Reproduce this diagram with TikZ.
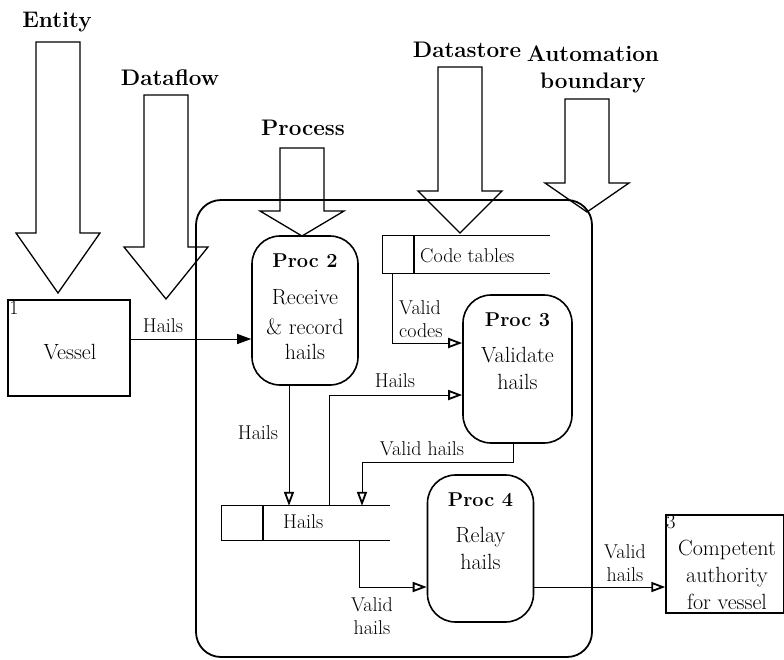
\documentclass[tikz,border=0pt]{standalone}
\usepackage{fontspec}
\usepackage{tikz}
\usetikzlibrary{arrows.meta}
\newcommand{\headfont}{\fontsize{22.5}{28}\selectfont\bfseries}
\newcommand{\bodyfont}{\fontsize{22}{27}\selectfont}
\newcommand{\procfont}{\fontsize{20}{24}\selectfont\bfseries}
\newcommand{\flowfont}{\fontsize{20}{23}\selectfont}
\newcommand{\bigarrow}[4]{%
	\draw[line width=1.3pt]
			(#1-22,#2) -- (#1+22,#2) -- (#1+22,#3) -- (#1+42,#3)
		--	(#1,#4) -- (#1-42,#3) -- (#1-22,#3) -- cycle;}
\tikzset{
	entitybox/.style = {draw, line width=1.5pt, inner sep=0pt},
	procbox/.style = {draw, line width=1.6pt, rounded corners=28pt, inner sep=0pt},
	storebox/.style = {inner sep=0pt},
	flow/.style = {line width=1pt, -{Triangle[open, length=14pt, width=10pt, line width=1.8pt]}},
	flowlabel/.style = {font=\flowfont, align=center, inner sep=1pt},
	bodytext/.style = {font=\bodyfont, align=center, inner sep=2pt},
	headlabel/.style = {font=\headfont, align=center, inner sep=0pt}
}

\begin{document}
\begin{tikzpicture}[x=1pt, y=-1pt]
	\useasboundingbox (0,0) rectangle (784,659);

	\draw[line width=1.8pt, rounded corners=25pt] (196,200) rectangle (592,657);

	\node[headlabel] (lentity) at (57,22) {Entity};
	\node[headlabel] (ldataflow) at (170,78) {Dataflow};
	\node[headlabel] (lprocess) at (303,128) {Process};
	\node[headlabel] (ldatastore) at (467,50) {Datastore};
	\node[headlabel, font=\fontsize{22.5}{27}\selectfont\bfseries] (lboundary) at (593,69) {Automation\\boundary};

	\bigarrow{58}{42}{233}{293}
	\bigarrow{166}{95}{247}{299}
	\bigarrow{302}{148}{211}{236}
	\bigarrow{460}{67}{191}{233}
	\bigarrow{587}{99}{183}{212}

	\node[entitybox, minimum width=122pt, minimum height=96pt] (vessel) at (69,348) {};
	\node[flowlabel, anchor=north west, inner sep=2pt] at (vessel.north west) {1};
	\node[bodytext] (vesseltext) at (70,352) {Vessel};

	\node[entitybox, minimum width=118pt, minimum height=98pt] (authority) at (725,564) {};
	\node[flowlabel, anchor=north west, inner sep=1pt] at (authority.north west) {3};
	\node[bodytext] (authtext) at (727,575) {Competent\\authority\\for vessel};

	\node[procbox, minimum width=106pt, minimum height=149pt] (proc2) at (305,310.5) {};
	\node[bodytext, anchor=north] at ([yshift=-16pt]proc2.north) {{\procfont Proc 2}\\[10pt]Receive\\[3pt]\& record\\[-2pt]hails};

	\node[procbox, minimum width=109pt, minimum height=148pt] (proc3) at (517.5,369) {};
	\node[bodytext, anchor=north] at ([yshift=-16pt]proc3.north) {{\procfont Proc 3}\\[9pt]Validate\\hails};

	\node[procbox, minimum width=106pt, minimum height=147pt] (proc4) at (480.5,548.5) {};
	\node[bodytext, anchor=north] at ([yshift=-16pt]proc4.north) {{\procfont Proc 4}\\[9pt]Relay\\hails};

	\node[storebox, minimum width=167pt, minimum height=37pt] (codes) at (466.5,254.5) {};
	\draw[line width=1.2pt] (codes.north east) -- (codes.north west) -- (codes.south west) -- (codes.south east);
	\draw[line width=1.2pt] (414,236) -- (414,273);
	\node[flowlabel, anchor=west] at (419,256) {Code tables};

	\node[storebox, minimum width=168pt, minimum height=34pt] (hailstore) at (306,523) {};
	\draw[line width=1.2pt] (hailstore.north east) -- (hailstore.north west) -- (hailstore.south west) -- (hailstore.south east);
	\draw[line width=1.2pt] (263,506) -- (263,540);
	\node[flowlabel, anchor=west] at (282,522) {Hails};

	\draw[line width=1pt, -{Triangle[length=14pt, width=10pt]}] (vessel.east |- 0,339) -- (proc2.west |- 0,339);
	\node[flowlabel] at (163,326) {Hails};

	\draw[flow] (codes.south -| 392,0) -- (392,343) -- (proc3.west |- 0,343);
	\node[flowlabel, align=left, anchor=west] at (398,319) {Valid\\codes};

	\draw[flow] (proc2.south -| 289,0) -- (hailstore.north -| 289,0);
	\node[flowlabel] at (258,433) {Hails};

	\draw[flow] (hailstore.north -| 329,0) -- (329,395) -- (proc3.west |- 0,395);
	\node[flowlabel] at (395,381) {Hails};

	\draw[flow] (proc3.south -| 513,0) -- (513,462) -- (362,462) -- (hailstore.north -| 362,0);
	\node[flowlabel] at (422,449) {Valid hails};

	\draw[flow] (hailstore.south -| 359,0) -- (359,587) -- (proc4.west |- 0,587);
	\node[flowlabel] at (372,616) {Valid\\hails};

	\draw[flow] (proc4.east |- 0,587) -- (authority.west |- 0,587);
	\node[flowlabel] at (625,563) {Valid\\hails};
\end{tikzpicture}
\end{document}
